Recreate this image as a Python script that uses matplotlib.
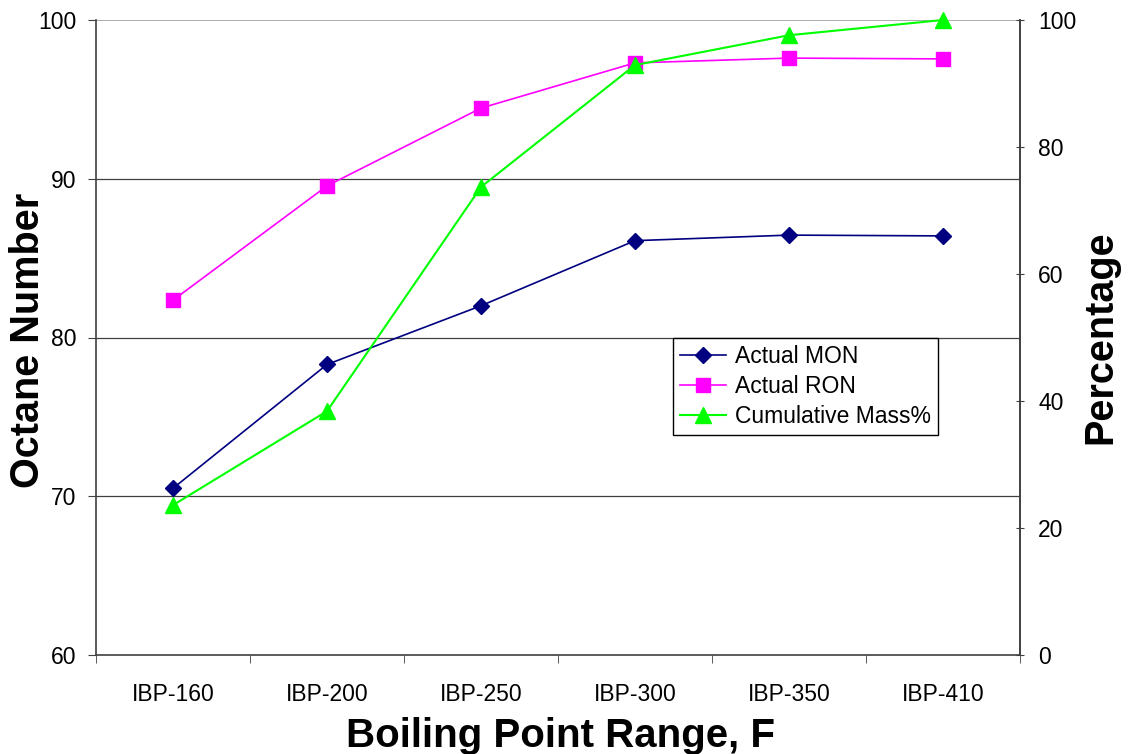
import matplotlib
matplotlib.use("Agg")
import matplotlib.pyplot as plt

categories = ["IBP-160", "IBP-200", "IBP-250", "IBP-300", "IBP-350", "IBP-410"]
mon = [70.5, 78.3, 82.0, 86.1, 86.45, 86.4]
ron = [82.35, 89.55, 94.45, 97.3, 97.6, 97.55]
cum_mass = [23.6, 38.4, 73.7, 92.9, 97.6, 100.0]

plt.rcParams['font.family'] = ['Liberation Sans', 'DejaVu Sans']

fig = plt.figure(figsize=(11.28, 7.54), dpi=100)
ax = fig.add_axes([96/1128, 99/754, 924/1128, 635/754])
ax2 = ax.twinx()

x = list(range(len(categories)))
l1, = ax.plot(x, mon, color="#000080", marker="D", markersize=8, lw=1.2, label="Actual MON", zorder=3)
l2, = ax.plot(x, ron, color="#FF00FF", marker="s", markersize=10, lw=1.2, label="Actual RON", zorder=3)
l3, = ax2.plot(x, cum_mass, color="#00FF00", marker="^", markersize=11, lw=1.5, label="Cumulative Mass%", zorder=3, clip_on=False)

ax.set_xlim(-0.5, len(categories) - 0.5)
ax.set_ylim(60, 100)
ax.set_yticks([60, 70, 80, 90, 100])
ax2.set_ylim(0, 100)
ax2.set_yticks([0, 20, 40, 60, 80, 100])

ax.set_xticks(x)
ax.set_xticklabels(categories)
ax.set_xticks([i - 0.5 for i in range(len(categories) + 1)], minor=True)
ax.tick_params(axis="x", which="major", length=0, pad=20, labelsize=16.5)
ax.tick_params(axis="x", which="minor", length=6, color="#404040")
ax.tick_params(axis="y", length=6, labelsize=16.5, color="#404040", pad=8)
ax2.tick_params(axis="y", length=6, direction="inout", labelsize=16.5, color="#404040", pad=10)

for yv in [70, 80, 90]:
    ax.axhline(yv, color="#404040", lw=0.9, zorder=1)
ax.axhline(100, color="#A0A0A0", lw=1.2, zorder=1)

for a in (ax, ax2):
    a.spines["top"].set_visible(False)
    for s in ("left", "right", "bottom"):
        a.spines[s].set_color("#404040")
        a.spines[s].set_linewidth(1.2)
ax2.spines["left"].set_visible(False)
ax2.spines["bottom"].set_visible(False)

ax.set_xlabel("Boiling Point Range, F", fontsize=29, fontweight="bold")
ax.set_ylabel("Octane Number", fontsize=28.5, fontweight="bold")
ax2.set_ylabel("Percentage", fontsize=28.5, fontweight="bold")
ax.xaxis.set_label_coords((560 - 96) / 924, (655 - 736) / 635)
ax.yaxis.set_label_coords((28 - 96) / 924, (655 - 340) / 635)
ax2.yaxis.set_label_coords((1100 - 96) / 924, (655 - 337) / 635)
ax.xaxis.label.set_va("center")
ax.yaxis.label.set_va("center")
ax2.yaxis.label.set_va("center")

leg = ax2.legend(handles=[l1, l2, l3], loc="upper left", bbox_to_anchor=(577/924, 317/635),
                 fontsize=16.5, frameon=True, fancybox=False, framealpha=1,
                 edgecolor="black", handlelength=2.0, borderpad=0.3,
                 labelspacing=0.3, handletextpad=0.4, borderaxespad=0)
leg.get_frame().set_linewidth(1.0)
leg.set_zorder(5)

fig.savefig("out.png", dpi=100)
